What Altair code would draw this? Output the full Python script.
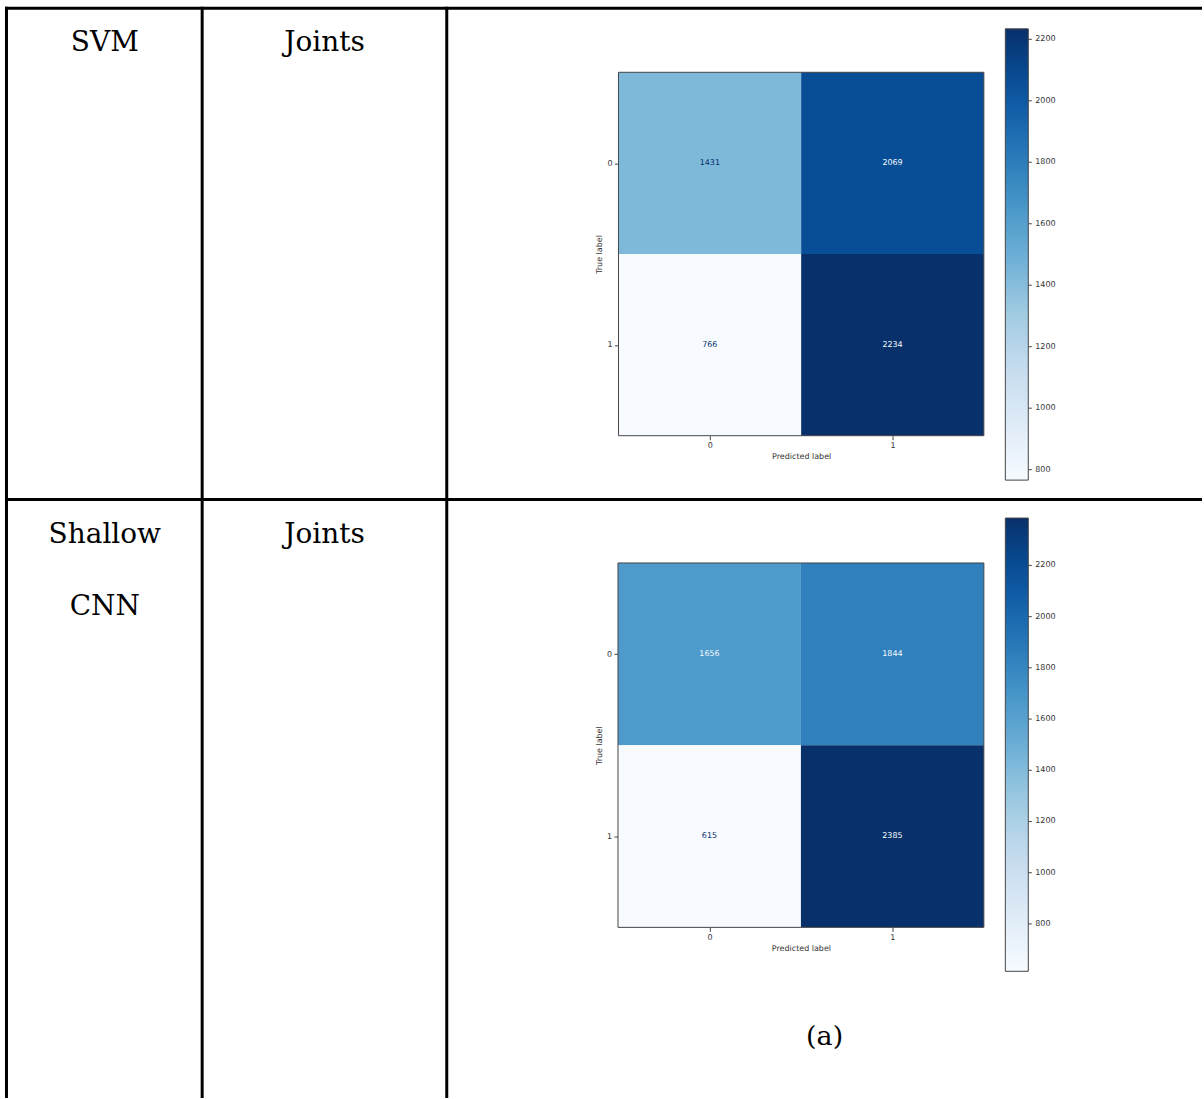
import altair as alt
import pandas as pd

# ---- data -------------------------------------------------------------
classes = [0, 1]
row_models = [["SVM"], ["Shallow", "CNN"]]
row_features = ["Joints", "Joints"]
svm_counts = [[1431, 2069], [766, 2234]]
cnn_counts = [[1656, 1844], [615, 2385]]
bar_ticks = [800, 1000, 1200, 1400, 1600, 1800, 2000, 2200]
caption = "(a)"

# ColorBrewer "Blues" ramp, interpolated linearly between stops
blues = ["#f7fbff", "#deebf7", "#c6dbef", "#9ecae1", "#6baed6",
         "#4292c6", "#2171b5", "#08519c", "#08306b"]

PAGE_W = 1204
SERIF = "DejaVu Serif"
SANS = "DejaVu Sans"
INK = "#333333"
BAR_W = 23


def matrix_frame(counts):
    rows = []
    for i, t in enumerate(classes):
        for j, p in enumerate(classes):
            rows.append({"true": t, "pred": p, "n": counts[i][j]})
    return pd.DataFrame(rows)


def hline(y, x0, x1):
    return alt.Chart(pd.DataFrame({"k": [0]})).mark_rule(
        color="black", strokeWidth=3
    ).encode(x=alt.value(x0), x2=alt.value(x1), y=alt.value(y))


def vline(x, y0, y1):
    return alt.Chart(pd.DataFrame({"k": [0]})).mark_rule(
        color="black", strokeWidth=3
    ).encode(x=alt.value(x), y=alt.value(y0), y2=alt.value(y1))


def label(text, x, y, size=28, line_height=72, font=SERIF):
    return alt.Chart(pd.DataFrame({"k": [0]})).mark_text(
        text=text, font=font, fontSize=size, color="black",
        align="center", baseline="alphabetic", lineHeight=line_height,
    ).encode(x=alt.value(x), y=alt.value(y))


def heatmap(counts, x_range, y_range, row_h, bar_x, bar_y, bar_len):
    df = matrix_frame(counts)
    lo, hi = int(df["n"].min()), int(df["n"].max())
    thresh = (lo + hi) / 2
    lim = [min(classes) - 0.5, max(classes) + 0.5]
    # colour stops spread evenly over the observed count range
    stops = [lo + (hi - lo) * k / (len(blues) - 1) for k in range(len(blues))]

    xs = alt.Scale(domain=lim, range=x_range, nice=False, zero=False)
    ys = alt.Scale(domain=lim, range=y_range, nice=False, zero=False)
    common = dict(
        values=classes, format="d", grid=False, domain=False,
        tickSize=4, tickColor="#444444", tickWidth=1,
        labelFont=SANS, labelFontSize=8, labelColor=INK,
        labelFlush=False, labelOverlap=False,
        titleFont=SANS, titleFontSize=8, titleFontWeight="normal",
        titleColor=INK,
    )
    x_axis = alt.Axis(orient="bottom", offset=-(row_h - y_range[1]),
                      title="Predicted label", labelPadding=2,
                      titlePadding=3, **common)
    y_axis = alt.Axis(orient="left", offset=-x_range[0],
                      title="True label", labelPadding=2.5,
                      titlePadding=3, **common)

    base = alt.Chart(df).transform_calculate(
        x0="datum.pred - 0.5", x1="datum.pred + 0.5",
        y0="datum.true - 0.5", y1="datum.true + 0.5",
    )
    cells = base.mark_rect().encode(
        x=alt.X("x0:Q", scale=xs, axis=x_axis),
        x2="x1:Q",
        y=alt.Y("y0:Q", scale=ys, axis=y_axis),
        y2="y1:Q",
        color=alt.Color(
            "n:Q",
            scale=alt.Scale(type="linear", domain=stops, range=blues,
                            interpolate="rgb", nice=False, zero=False),
            legend=alt.Legend(
                orient="none", legendX=bar_x, legendY=bar_y,
                direction="vertical", title=None, values=bar_ticks,
                format="d",
                gradientLength=bar_len, gradientThickness=BAR_W,
                gradientStrokeColor="#444444", gradientStrokeWidth=1,
                labelFont=SANS, labelFontSize=8, labelColor=INK,
                labelOffset=7, labelOverlap=False, padding=0,
            ),
        ),
    )
    nums = base.mark_text(font=SANS, fontSize=8).encode(
        x=alt.X("pred:Q", scale=xs, axis=x_axis),
        y=alt.Y("true:Q", scale=ys, axis=y_axis),
        text=alt.Text("n:Q", format="d"),
        color=alt.condition(f"datum.n > {thresh}",
                            alt.value("#f7fbff"), alt.value("#08306b")),
    )
    frame = alt.Chart(pd.DataFrame({"k": [0]})).mark_rect(
        fillOpacity=0, stroke="#444444", strokeWidth=1
    ).encode(
        x=alt.X(datum=lim[0], scale=xs, axis=x_axis),
        x2=alt.X2(datum=lim[1]),
        y=alt.Y(datum=lim[0], scale=ys, axis=y_axis),
        y2=alt.Y2(datum=lim[1]),
    )
    matrix = alt.layer(cells, nums, frame)

    # small tick marks on the right side of the colour bar
    bar_scale = alt.Scale(domain=[lo, hi], range=[bar_y + bar_len, bar_y],
                          nice=False, zero=False)
    ticks = alt.Chart(pd.DataFrame({"v": bar_ticks})).mark_rule(
        color="#444444", strokeWidth=1
    ).encode(
        y=alt.Y("v:Q", scale=bar_scale, axis=None),
        x=alt.value(bar_x + BAR_W),
        x2=alt.value(bar_x + BAR_W + 3.5),
    )
    return [matrix, ticks]


# ---- row 1: SVM ---------------------------------------------------------
H1 = 498
row1 = alt.layer(
    hline(7.25, 5, PAGE_W),
    vline(6.5, 5.75, H1 + 1), vline(202.5, 5.75, H1 + 1),
    vline(447.5, 5.75, H1 + 1),
    label(row_models[0], 105, 50),
    label(row_features[0], 325, 50),
    *heatmap(svm_counts, [619.5, 985.5], [71.5, 435.5], H1, 1007, 28, 452),
).resolve_scale(y="independent").properties(width=PAGE_W, height=H1)

# ---- row 2: Shallow CNN -------------------------------------------------
H2 = 601
row2 = alt.layer(
    hline(1.5, 5, PAGE_W),
    vline(6.5, 0, H2), vline(202.5, 0, H2), vline(447.5, 0, H2),
    label(row_models[1], 105, 45),
    label(row_features[1], 325, 45),
    label(caption, 826, 548, size=27),
    *heatmap(cnn_counts, [619, 985.5], [65, 430], H2, 1007, 20, 454),
).resolve_scale(y="independent").properties(width=PAGE_W, height=H2)

chart = alt.vconcat(row1, row2, spacing=0, bounds="flush").resolve_scale(
    color="independent"
).properties(padding=0, background="white").configure_view(strokeWidth=0)

chart.save("out.html", embed_options={"renderer": "svg", "actions": False})
